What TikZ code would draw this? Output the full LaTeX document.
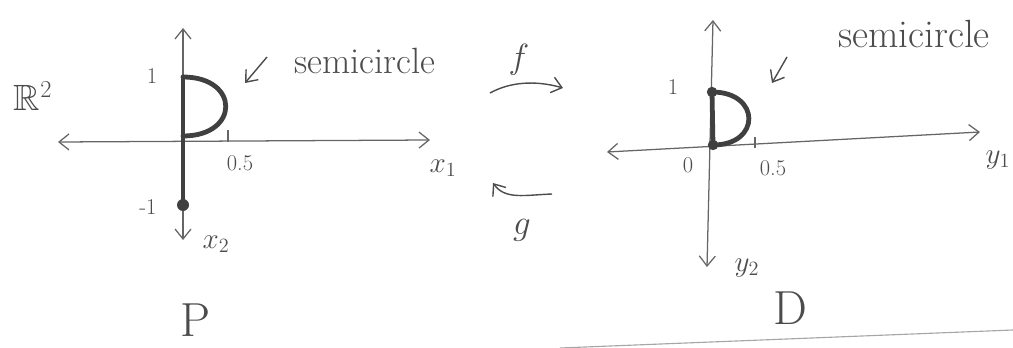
\documentclass[tikz,border=0pt]{standalone}
\usepackage{amssymb}
\usetikzlibrary{arrows.meta,positioning}
\newcommand{\fsz}[1]{\fontsize{#1}{#1}\selectfont}

\begin{document}
\begin{tikzpicture}[
    x=0.025cm, y=-0.025cm,
    >={Straight Barb[length=2.5mm, width=4mm]},
    axis/.style={draw=black!60, line width=0.9pt, <->},
    tickmark/.style={draw=black!60, line width=0.9pt},
    setline/.style={draw=black!75, line width=3.4pt, line cap=round},
    dot/.style={circle, fill=black!75, inner sep=0pt, minimum size=3mm},
    lbl/.style={text=black!70, inner sep=1pt},
    ticklbl/.style={lbl, font=\fsz{16}},
    note/.style={draw=black!70, line width=1pt, ->},
    maparrow/.style={draw=black!70, line width=1pt, ->}
]
\useasboundingbox (0,0) rectangle (1013,348);
% the set P in R^2
\coordinate (pW) at (58,142);
\coordinate (pE) at (430,140);
\coordinate (pN) at (183,28);
\coordinate (pS) at (183,240);
\coordinate (pO) at (183,136);
\coordinate (pTop) at (183,77);
\draw[axis] (pW) -- (pE);
\draw[axis] (pS) -- (pN);
\draw[tickmark] (228,130) -- (228,142);
\node[dot] (pLow) at (183,205) {};
\draw[setline] (pTop) .. controls (240,77) and (240,136) .. (pO);
\draw[setline] (pTop) -- (pLow);
\node[lbl, font=\fsz{26}] (r2) at (33,96) {$\mathbb{R}^2$};
\node[ticklbl] (p1) at (152,76) {1};
\node[ticklbl] (pm1) at (148,207) {-1};
\node[ticklbl] (p05) at (240,163) {0.5};
\node[lbl, font=\fsz{20}] (px1) at (443,168) {$x_1$};
\node[lbl, font=\fsz{20}] (px2) at (216,244) {$x_2$};
\node[lbl, font=\fsz{34}] (pName) at (196,320) {P};
\node[lbl, font=\fsz{26}] (pSemi) at (365,61) {semicircle};
\coordinate (pNoteA) at (267,57);
\coordinate (pNoteB) at (245,83);
\draw[note] (pNoteA) -- (pNoteB);

% the maps f and g
\coordinate (fA) at (490,93);
\coordinate (fB) at (563,88);
\draw[maparrow] (fA) .. controls (510,82) and (535,80) .. (fB);
\node[lbl, font=\fsz{24}] (fLbl) at (519,60) {$f$};
\coordinate (gA) at (552,194);
\coordinate (gB) at (493,183);
\draw[maparrow] (gA) .. controls (525,195) and (505,200) .. (gB);
\node[lbl, font=\fsz{24}] (gLbl) at (522,230) {$g$};

% the set D
\coordinate (dW) at (607,152);
\coordinate (dE) at (980,132);
\coordinate (dN) at (713,20);
\coordinate (dS) at (707,267);
\coordinate (dO) at (713,145);
\coordinate (dTop) at (712,92);
\draw[axis] (dW) -- (dE);
\draw[axis] (dS) -- (dN);
\draw[tickmark] (755,137) -- (755,148);
\draw[setline] (dTop) .. controls (761,92) and (761,145) .. (dO);
\draw[setline] (dTop) -- (dO);
\node[dot, minimum size=2.6mm] (dTopDot) at (dTop) {};
\node[dot, minimum size=2.6mm] (dLowDot) at (dO) {};
\node[ticklbl] (d1) at (673,87) {1};
\node[ticklbl] (d0) at (688,165) {0};
\node[ticklbl] (d05) at (773,168) {0.5};
\node[lbl, font=\fsz{20}, anchor=west] (dy1) at (984,160) {$y_1$};
\node[lbl, font=\fsz{20}] (dy2) at (747,268) {$y_2$};
\node[lbl, font=\fsz{34}] (dName) at (790,308) {D};
\node[lbl, font=\fsz{28}] (dSemi) at (914,34) {semicircle};
\coordinate (dNoteA) at (787,57);
\coordinate (dNoteB) at (772,83);
\draw[note] (dNoteA) -- (dNoteB);

% edge of the sheet
\coordinate (sheetA) at (560,348);
\coordinate (sheetB) at (1013,330);
\draw[black!35, line width=0.8pt] (sheetA) -- (sheetB);
\end{tikzpicture}
\end{document}
